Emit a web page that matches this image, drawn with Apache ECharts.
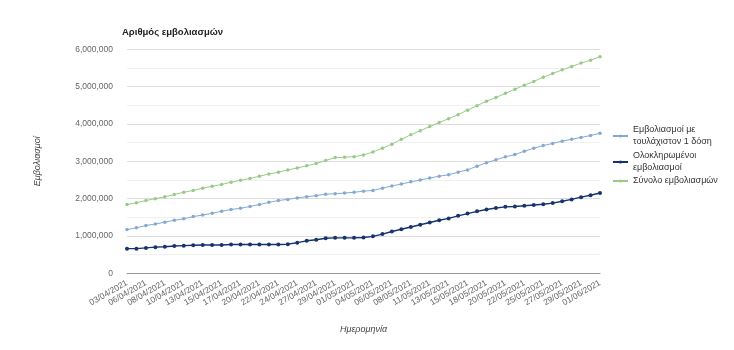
<!DOCTYPE html>
<html>
<head>
<meta charset="utf-8">
<script src="https://cdn.jsdelivr.net/npm/echarts@6/dist/echarts.min.js"></script>
<style>
  html, body { margin: 0; padding: 0; background: #fff; }
  #chart { width: 734px; height: 350px; }
</style>
</head>
<body>
<div id="chart"></div>
<script>
// Dates (Sundays are not in the data)
const dates = [
  "03/04/2021","05/04/2021","06/04/2021","07/04/2021","08/04/2021","09/04/2021","10/04/2021",
  "12/04/2021","13/04/2021","14/04/2021","15/04/2021","16/04/2021","17/04/2021",
  "19/04/2021","20/04/2021","21/04/2021","22/04/2021","23/04/2021","24/04/2021",
  "26/04/2021","27/04/2021","28/04/2021","29/04/2021","30/04/2021","01/05/2021",
  "03/05/2021","04/05/2021","05/05/2021","06/05/2021","07/05/2021","08/05/2021",
  "10/05/2021","11/05/2021","12/05/2021","13/05/2021","14/05/2021","15/05/2021",
  "17/05/2021","18/05/2021","19/05/2021","20/05/2021","21/05/2021","22/05/2021",
  "24/05/2021","25/05/2021","26/05/2021","27/05/2021","28/05/2021","29/05/2021",
  "31/05/2021","01/06/2021"
];

// Values in millions
const firstDose = [
  1.17,1.22,1.28,1.32,1.37,1.42,1.46,1.52,1.56,1.61,1.66,1.71,1.74,
  1.79,1.84,1.90,1.95,1.98,2.02,2.05,2.08,2.12,2.13,2.15,2.17,
  2.20,2.22,2.28,2.34,2.39,2.45,2.50,2.55,2.60,2.64,2.71,2.77,
  2.87,2.96,3.04,3.12,3.18,3.27,3.35,3.42,3.48,3.54,3.59,3.64,3.69,3.75
];
const fullyVaccinated = [
  0.66,0.66,0.68,0.70,0.71,0.73,0.74,0.75,0.76,0.76,0.76,0.77,0.77,
  0.77,0.77,0.77,0.77,0.78,0.82,0.87,0.90,0.94,0.95,0.95,0.95,
  0.96,0.99,1.05,1.12,1.18,1.24,1.30,1.36,1.42,1.47,1.54,1.60,
  1.66,1.71,1.75,1.78,1.79,1.81,1.83,1.85,1.88,1.93,1.98,2.04,2.09,2.15
];
const totalDoses = [
  1.84,1.89,1.95,2.00,2.05,2.11,2.17,2.22,2.28,2.33,2.38,2.44,2.49,
  2.54,2.60,2.66,2.71,2.77,2.82,2.88,2.94,3.02,3.10,3.11,3.125,
  3.17,3.25,3.35,3.46,3.59,3.71,3.82,3.93,4.04,4.14,4.25,4.37,
  4.49,4.61,4.71,4.82,4.93,5.04,5.14,5.25,5.35,5.45,5.54,5.63,5.71,5.80
];

const seriesNames = [
  "Εμβολιασμοί με τουλάχιστον 1 δόση",
  "Ολοκληρωμένοι εμβολιασμοί",
  "Σύνολο εμβολιασμών"
];
const legendLabels = [
  "Εμβολιασμοί με\nτουλάχιστον 1 δόση",
  "Ολοκληρωμένοι\nεμβολιασμοί",
  "Σύνολο εμβολιασμών"
];

const FONT = 'Arial, "Liberation Sans", sans-serif';
const toAbs = arr => arr.map(v => Math.round(v * 1000000));

const chart = echarts.init(document.getElementById('chart'), null, { renderer: 'canvas' });

function legendFor(i, top, twoLine) {
  return {
    orient: 'vertical',
    left: 612,
    top: top,
    padding: 0,
    itemWidth: 15,
    itemHeight: 4,
    itemGap: 0,
    data: [{
      name: seriesNames[i],
      textStyle: twoLine ? { padding: [12, 0, 0, 0] } : {}
    }],
    formatter: () => legendLabels[i],
    textStyle: { fontFamily: FONT, fontSize: 9, color: '#333', lineHeight: 12 },
    selectedMode: false
  };
}

chart.setOption({
  animation: false,
  backgroundColor: '#fff',
  title: {
    text: 'Αριθμός εμβολιασμών',
    left: 122,
    top: 27,
    padding: 0,
    textStyle: { fontFamily: FONT, fontSize: 9.5, fontWeight: 'bold', color: '#222' }
  },
  legend: [
    legendFor(0, 118, true),
    legendFor(1, 144, true),
    legendFor(2, 175, false)
  ],
  grid: { left: 127, right: 134, top: 49.3, bottom: 76.7, containLabel: false },
  xAxis: {
    type: 'category',
    data: dates,
    boundaryGap: false,
    name: 'Ημερομηνία',
    nameLocation: 'middle',
    nameGap: 52,
    nameTextStyle: { fontFamily: FONT, fontSize: 9, fontStyle: 'italic', color: '#444' },
    axisLine: { show: true, lineStyle: { color: '#999', width: 1 } },
    axisTick: { show: false },
    axisLabel: {
      interval: 1,
      rotate: 30,
      margin: 9,
      fontFamily: FONT,
      fontSize: 8.5,
      color: '#666'
    },
    splitLine: { show: false }
  },
  yAxis: {
    type: 'value',
    min: 0,
    max: 6000000,
    interval: 1000000,
    name: 'Εμβολιασμοί',
    nameLocation: 'middle',
    nameRotate: 90,
    nameGap: 85,
    nameTextStyle: { fontFamily: FONT, fontSize: 9, fontStyle: 'italic', color: '#444' },
    axisLine: { show: false },
    axisTick: { show: false },
    axisLabel: {
      margin: 14,
      fontFamily: FONT,
      fontSize: 8.5,
      color: '#666',
      formatter: v => v.toLocaleString('en-US')
    },
    splitLine: { show: true, lineStyle: { color: '#dcdcdc', width: 1 } },
    minorTick: { show: false, splitNumber: 2 },
    minorSplitLine: { show: true, lineStyle: { color: '#f0f0f0', width: 1 } }
  },
  series: [
    {
      name: seriesNames[0],
      type: 'line',
      data: toAbs(firstDose),
      symbol: 'circle',
      symbolSize: 3.5,
      itemStyle: { color: '#84a9d3' },
      lineStyle: { color: '#84a9d3', width: 1 },
      z: 3
    },
    {
      name: seriesNames[1],
      type: 'line',
      data: toAbs(fullyVaccinated),
      symbol: 'circle',
      symbolSize: 4,
      itemStyle: { color: '#15336e' },
      lineStyle: { color: '#15336e', width: 1.4 },
      z: 4
    },
    {
      name: seriesNames[2],
      type: 'line',
      data: toAbs(totalDoses),
      symbol: 'circle',
      symbolSize: 3.5,
      itemStyle: { color: '#98cc86' },
      lineStyle: { color: '#98cc86', width: 1 },
      z: 2
    }
  ]
});
</script>
</body>
</html>
